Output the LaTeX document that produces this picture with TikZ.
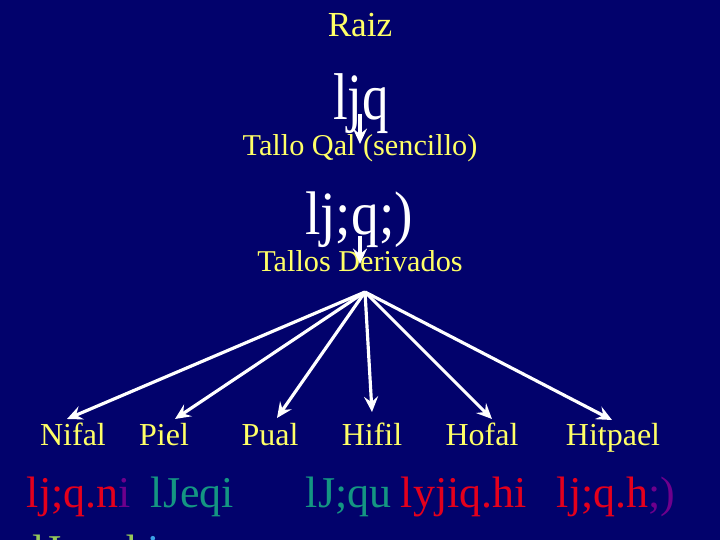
\documentclass[tikz,border=0pt]{standalone}
\usepackage{fontspec}
\setmainfont{Liberation Serif}
\newfontfamily\hebA[FakeStretch=0.8]{Liberation Serif}
\newfontfamily\hebB[FakeStretch=0.9]{Liberation Serif}
\usetikzlibrary{arrows.meta}
\definecolor{bg}{RGB}{2,2,108}
\definecolor{ylw}{RGB}{255,255,102}
\definecolor{hred}{RGB}{228,0,28}
\definecolor{hteal}{RGB}{20,150,130}
\definecolor{hpurp}{RGB}{110,0,140}
\definecolor{hgreen}{RGB}{150,200,90}
\definecolor{hcyan}{RGB}{60,160,230}
\tikzset{
  lbl/.style={text=ylw, anchor=base},
  stemlbl/.style={lbl, font=\fontsize{9.1}{11}\selectfont},
  form/.style={anchor=base west, font=\fontsize{12.5}{15}\selectfont},
  arr/.style={draw=white, line width=0.9pt, -{Stealth[length=4.4pt,width=4pt,inset=1.6pt]}}
}
\begin{document}
\begin{tikzpicture}[x=0.01cm,y=-0.01cm, every node/.style={inner sep=0pt, outer sep=0pt}]
\path[use as bounding box, clip] (0,0) rectangle (720,540);
\fill[bg] (0,0) rectangle (720,540);
% top part
\node[lbl, font=\fontsize{10}{12}\selectfont] (raiz) at (360,37) {Raiz};
\node[anchor=base, text=white, font=\hebA\fontsize{18.8}{22}\selectfont] (ljq) at (361,120) {ljq};
\node[lbl, font=\fontsize{8.6}{10}\selectfont] (qal) at (360,156) {Tallo Qal (sencillo)};
\node[anchor=base, text=white, font=\hebB\fontsize{17.5}{21}\selectfont] (piel) at (359,235) {lj;q;)};
\node[lbl, font=\fontsize{8.6}{10}\selectfont] (deriv) at (360,272) {Tallos Derivados};
\coordinate (a1s) at (360,114);
\coordinate (a1e) at (360,144);
\coordinate (a2s) at (360,236);
\coordinate (a2e) at (360,264);
\draw[arr] (a1s) -- (a1e);
\draw[arr] (a2s) -- (a2e);
% stem labels
\node[stemlbl] (nifal) at (73,446) {Nifal};
\node[stemlbl] (pielL) at (164,446) {Piel};
\node[stemlbl] (pual) at (270,446) {Pual};
\node[stemlbl] (hifil) at (372,446) {Hifil};
\node[stemlbl] (hofal) at (482,446) {Hofal};
\node[stemlbl] (hitpael) at (613,446) {Hitpael};
% fan arrows
\coordinate (apex) at (365,292);
\coordinate (t1) at (67,419);
\coordinate (t2) at (175,419);
\coordinate (t3) at (277,418);
\coordinate (t4) at (372,412);
\coordinate (t5) at (492,419);
\coordinate (t6) at (612,420);
\foreach \t in {t1,t2,t3,t4,t5,t6} \draw[arr] (apex) -- (\t);
% forms
\node[form] (f1) at (27,508) {\textcolor{hred}{lj;q.n}\textcolor{hpurp}{i}};
\node[form, text=hteal] (f2) at (151,508) {lJeqi};
\node[form, text=hteal] (f3) at (306,508) {lJ;qu};
\node[form, text=hred] (f4) at (401,508) {lyjiq.hi};
\node[form] (f5) at (557,508) {\textcolor{hred}{lj;q.h}\textcolor{hpurp}{;)}};
\node[form] (f6) at (32,566) {\textcolor{hgreen}{lJeqt.h}\textcolor{hcyan}{i}};
\end{tikzpicture}
\end{document}
